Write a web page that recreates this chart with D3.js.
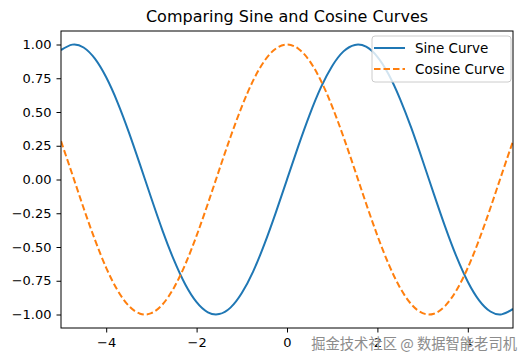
<!DOCTYPE html>
<html>
<head>
<meta charset="utf-8">
<script src="https://cdn.jsdelivr.net/npm/d3@7"></script>
<style>
  html, body { margin: 0; padding: 0; background: #fff; }
  svg { display: block; }
  text { font-family: "DejaVu Sans", sans-serif; }
</style>
</head>
<body>
<div id="chart"></div>
<script>
const xValues = [-5, -4.75, -4.5, -4.25, -4, -3.75, -3.5, -3.25, -3, -2.75, -2.5, -2.25, -2, -1.75, -1.5, -1.25, -1, -0.75, -0.5, -0.25, 0,
                 0.25, 0.5, 0.75, 1, 1.25, 1.5, 1.75, 2, 2.25, 2.5, 2.75, 3, 3.25, 3.5, 3.75, 4, 4.25, 4.5, 4.75, 5];
const sineValues = [0.959, 0.999, 0.978, 0.895, 0.757, 0.572, 0.351, 0.108, -0.141, -0.382, -0.598, -0.778, -0.909, -0.984, -0.997, -0.949, -0.841, -0.682, -0.479, -0.247, 0,
                    0.247, 0.479, 0.682, 0.841, 0.949, 0.997, 0.984, 0.909, 0.778, 0.598, 0.382, 0.141, -0.108, -0.351, -0.572, -0.757, -0.895, -0.978, -0.999, -0.959];
const cosineValues = [0.284, 0.038, -0.211, -0.446, -0.654, -0.820, -0.936, -0.994, -0.990, -0.924, -0.801, -0.628, -0.416, -0.178, 0.071, 0.315, 0.540, 0.732, 0.878, 0.969, 1.000,
                      0.969, 0.878, 0.732, 0.540, 0.315, 0.071, -0.178, -0.416, -0.628, -0.801, -0.924, -0.990, -0.994, -0.936, -0.820, -0.654, -0.446, -0.211, 0.038, 0.284];
const xTicks = [-4, -2, 0, 2, 4];
const yTicks = [-1.00, -0.75, -0.50, -0.25, 0.00, 0.25, 0.50, 0.75, 1.00];
const seriesNames = ["Sine Curve", "Cosine Curve"];
const title = "Comparing Sine and Cosine Curves";
const watermark = "掘金技术社区 @ 数据智能老司机";

const W = 528, H = 361;
const margin = { left: 61, right: 15, top: 31, bottom: 33 };
const pw = W - margin.left - margin.right;
const ph = H - margin.top - margin.bottom;

const svg = d3.select("#chart").append("svg").attr("width", W).attr("height", H);

const x = d3.scaleLinear().domain([-5, 5]).range([margin.left, margin.left + pw]);
const y = d3.scaleLinear().domain([-1.1, 1.1]).range([margin.top + ph, margin.top]);

const fmtMinus = s => s.replace("-", "\u2212");

const defs = svg.append("defs");
defs.append("clipPath").attr("id", "clip").append("rect")
  .attr("x", margin.left).attr("y", margin.top).attr("width", pw).attr("height", ph);

const line = d3.line().x(d => x(d[0])).y(d => y(d[1])).curve(d3.curveNatural);

const g = svg.append("g").attr("clip-path", "url(#clip)");
g.append("path").datum(xValues.map((v, i) => [v, sineValues[i]]))
  .attr("d", line).attr("fill", "none").attr("stroke", "#1f77b4").attr("stroke-width", 2);
g.append("path").datum(xValues.map((v, i) => [v, cosineValues[i]]))
  .attr("d", line).attr("fill", "none").attr("stroke", "#ff7f0e").attr("stroke-width", 2)
  .attr("stroke-dasharray", "6.5,3");

// axes
const xAxis = d3.axisBottom(x).tickValues(xTicks).tickSize(4.5).tickPadding(5.5)
  .tickFormat(d => fmtMinus(d3.format("d")(d)));
const yAxis = d3.axisLeft(y).tickValues(yTicks).tickSize(4.5).tickPadding(5)
  .tickFormat(d => fmtMinus(d3.format(".2f")(d)));

const gx = svg.append("g").attr("transform", `translate(0,${margin.top + ph})`).call(xAxis);
const gy = svg.append("g").attr("transform", `translate(${margin.left},0)`).call(yAxis);
[gx, gy].forEach(a => {
  a.select(".domain").remove();
  a.selectAll(".tick line").attr("stroke", "#000").attr("stroke-width", 1);
  a.selectAll(".tick text").attr("fill", "#000").style("font-size", "13px").style("font-family", "DejaVu Sans");
});

// spines
svg.append("rect").attr("x", margin.left).attr("y", margin.top).attr("width", pw).attr("height", ph)
  .attr("fill", "none").attr("stroke", "#000").attr("stroke-width", 1);

// title
svg.append("text").attr("x", margin.left + pw / 2).attr("y", 21.5).attr("text-anchor", "middle")
  .style("font-size", "16px").attr("fill", "#000").text(title);

// legend
const lg = svg.append("g");
const lx = 372, ly = 36, lw = 139, lh = 46;
lg.append("rect").attr("x", lx).attr("y", ly).attr("width", lw).attr("height", lh)
  .attr("rx", 3).attr("fill", "#fff").attr("fill-opacity", 0.8).attr("stroke", "#cccccc").attr("stroke-width", 1);
const styles = [{ c: "#1f77b4", d: null }, { c: "#ff7f0e", d: "6.5,3" }];
seriesNames.forEach((n, i) => {
  const yy = ly + 12 + i * 21;
  const l = lg.append("line").attr("x1", lx + 2).attr("x2", lx + 33).attr("y1", yy).attr("y2", yy)
    .attr("stroke", styles[i].c).attr("stroke-width", 2);
  if (styles[i].d) l.attr("stroke-dasharray", styles[i].d);
  lg.append("text").attr("x", lx + 43).attr("y", yy + 5).style("font-size", "13.5px").attr("fill", "#000").text(n);
});

// watermark
svg.append("text").attr("x", 517).attr("y", 348.5).attr("text-anchor", "end")
  .style("font-family", "Noto Sans CJK SC, sans-serif").style("font-size", "14.3px")
  .attr("fill", "#8c8c8c").attr("stroke", "#fff").attr("stroke-width", 0.6).attr("paint-order", "stroke")
  .text(watermark);
</script>
</body>
</html>
